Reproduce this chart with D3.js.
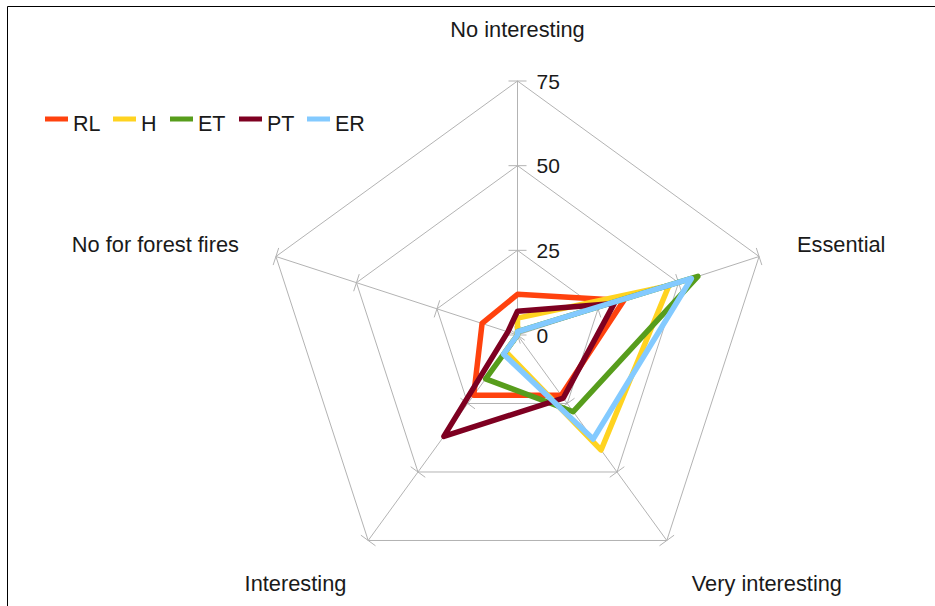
<!DOCTYPE html>
<html>
<head>
<meta charset="utf-8">
<script src="https://cdn.jsdelivr.net/npm/d3@7/dist/d3.min.js"></script>
<style>
  html, body { margin: 0; padding: 0; background: #fff; }
  svg { display: block; font-family: "Liberation Sans", Arial, sans-serif; }
</style>
</head>
<body>
<svg id="chart" width="935" height="606"></svg>
<script>
// Survey answers per group, in percent of respondents
const categories = ["No interesting", "Essential", "Very interesting", "Interesting", "No for forest fires"];
const seriesNames = ["RL", "H", "ET", "PT", "ER"];
const seriesColors = ["#ff420e", "#ffd320", "#579d1c", "#7e0021", "#83caff"];
const valuesRL = [12, 33, 22, 22, 11];
const valuesH  = [5, 47, 42, 6, 0];
const valuesET = [1, 56, 28, 16, 0];
const valuesPT = [7, 30, 23, 37, 3];
const valuesER = [1, 54, 38, 7, 0];
const tickValues = [0, 25, 50, 75];

const seriesValues = [valuesRL, valuesH, valuesET, valuesPT, valuesER];

const svg = d3.select("#chart");
const cx = 517.5, cy = 335;

const r = d3.scaleLinear().domain([0, 75]).range([0, 254]);
const angle = d3.scaleLinear().domain([0, categories.length]).range([0, 2 * Math.PI]);

// point at value v on axis i (angle measured clockwise from 12 o'clock)
const pt = (i, v) => [cx + r(v) * Math.sin(angle(i)), cy - r(v) * Math.cos(angle(i))];

// outer frame
svg.append("path")
  .attr("d", "M7.5,606 L7.5,6.5 L935,6.5")
  .attr("fill", "none").attr("stroke", "#000").attr("stroke-width", 1);

const grid = svg.append("g").attr("stroke", "#b3b3b3").attr("stroke-width", 1).attr("fill", "none");

// web polygons
tickValues.filter(t => t > 0).forEach(t => {
  grid.append("polygon")
    .attr("points", categories.map((c, i) => pt(i, t).join(",")).join(" "));
});

// spokes
categories.forEach((c, i) => {
  const [x2, y2] = pt(i, 75);
  grid.append("line").attr("x1", cx).attr("y1", cy).attr("x2", x2).attr("y2", y2);
});

// tick marks across each spoke
const tickHalf = 9;
categories.forEach((c, i) => {
  const a = angle(i);
  const px = Math.cos(a), py = Math.sin(a); // perpendicular to spoke
  tickValues.forEach(t => {
    const [x, y] = pt(i, t);
    grid.append("line")
      .attr("x1", x - px * tickHalf).attr("y1", y - py * tickHalf)
      .attr("x2", x + px * tickHalf).attr("y2", y + py * tickHalf);
  });
});

// value labels along the top spoke
svg.append("g").selectAll("text").data(tickValues).join("text")
  .attr("x", cx + 19)
  .attr("y", d => cy - r(d))
  .attr("dy", "0.36em")
  .attr("font-size", 21)
  .attr("fill", "#1a1a1a")
  .text(d => d);

// category labels
const labelPos = [
  { x: 517.5, y: 37, anchor: "middle" },
  { x: 797, y: 252, anchor: "start" },
  { x: 842, y: 591, anchor: "end" },
  { x: 295.5, y: 591, anchor: "middle" },
  { x: 239, y: 252, anchor: "end" }
];
svg.append("g").selectAll("text").data(categories).join("text")
  .attr("x", (d, i) => labelPos[i].x)
  .attr("y", (d, i) => labelPos[i].y)
  .attr("text-anchor", (d, i) => labelPos[i].anchor)
  .attr("font-size", 21.8)
  .attr("fill", "#1a1a1a")
  .text(d => d);

// series outlines
const radial = d3.lineRadial()
  .angle((d, i) => angle(i))
  .radius(d => r(d))
  .curve(d3.curveLinearClosed);

svg.append("g").attr("transform", `translate(${cx},${cy})`)
  .selectAll("path").data(seriesValues).join("path")
  .attr("d", d => radial(d))
  .attr("fill", "none")
  .attr("stroke", (d, i) => seriesColors[i])
  .attr("stroke-width", 5.5)
  .attr("stroke-linejoin", "round");

// legend
const legendX = [45, 113, 170, 239, 307];
const legend = svg.append("g").selectAll("g").data(seriesNames).join("g")
  .attr("transform", (d, i) => `translate(${legendX[i]},119)`);
legend.append("rect")
  .attr("x", 0).attr("y", -2.5).attr("width", 23).attr("height", 5)
  .attr("fill", (d, i) => seriesColors[i]);
legend.append("text")
  .attr("x", 28).attr("y", 4).attr("dy", "0.36em")
  .attr("font-size", 21.5)
  .attr("fill", "#1a1a1a")
  .text(d => d);
</script>
</body>
</html>
